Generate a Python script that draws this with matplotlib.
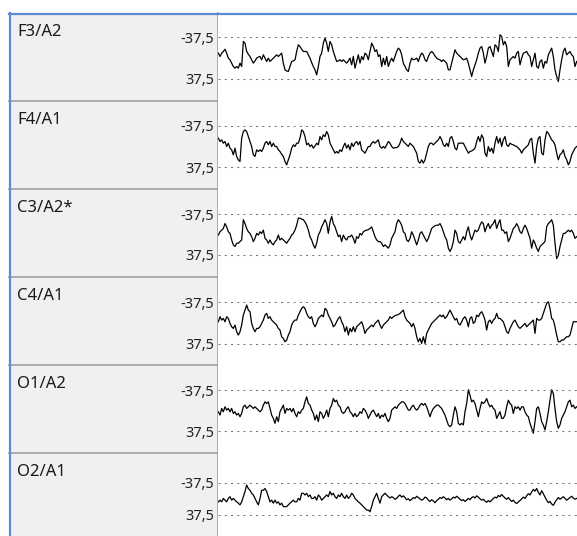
import matplotlib
matplotlib.use("Agg")
import matplotlib.pyplot as plt
from matplotlib.patches import Rectangle
from matplotlib.lines import Line2D
import numpy as np

plt.rcParams['font.family'] = ['Noto Sans', 'DejaVu Sans']

# channel names and amplitude scale (uV, negative up)
channels = ["F3/A2", "F4/A1", "C3/A2*", "C4/A1", "O1/A2", "O2/A1"]
scale_ticks = [-37.5, 37.5]
scale_labels = ["-37,5", "37,5"]

# traces in uV at an even step
f3_a2 = [-9, -3, -9, -12, -16, -9, 0, 3, 9, 15, 18, 15, 18, 9, 15, -30, -27, -12, -7, -3,
         3, 9, 5, 0, -2, -3, 3, -6, 0, 6, 0, 6, 3, 0, -3, -6, -3, -6, -9, 9,
         21, 23, 24, 15, 6, 5, 3, -12, -24, -21, -16, -12, -12, -12, -6, 0, 8, 15, 21, 30,
         15, -3, -9, -27, -36, -27, -12, -30, -24, -12, -3, 6, 5, 3, 6, 3, 6, 9, 5, 0,
         12, -3, 18, 6, -6, 9, -3, 3, -9, -6, 3, -12, -27, -21, -12, -15, -3, -6, 15, 0,
         12, -3, 15,
         6, 0, 6, -3, -12, -18, -15, -6, 9, 15, 21, 24, 9, 0, 3, 2, 0, 6, -3, -9,
         -6, 3, 6, -3, -9, -12, -9, -4, 0, 2, 3, 6, 3, 6, 9, 21, 21, 9, -3, -15,
         -9, -6, -3, 0, 3, 2, 0, 9, 21, 33, 21, 12, 3, -9, -18, -21, -9, 9, -3, -18,
         -21, -12, -3, -24, -21, -12, -42, -39, -24, -30, -21, 15, 3, 0, -3, 0, -9, -12, 12, 0,
         -9, -10, -12, -6, -3, 15, 3, -9, 15, 18, 6, 3, 18, 6, 9, -6, -12, -18, -3, 21,
         33, 42, 21, 3, -12, -18, -6, -9, -12, -6, -3, 15, 6]
f4_a1 = [-15, -9, -12, -6, -9, 0, -6, 3, 6, 15, 3, 18, 24, 27, -15, -27, -30, -27, -18, -9,
         0, 15, 18, 6, 9, 6, 9, 3, -6, -9, -3, -9, 0, -6, 0, 0, 6, 9, 14, 18,
         27, 33, 24, 15, 3, -3, 0, -6, -6, -15, -30, -27, -18, -3, -6, 0, -3, 3, -1, -6,
         -3, -18, -12, -21, -18, -27, -21, -6, 0, 6, 12, 9, 12, 6, 9, 0, -6, 3, -3, 6,
         -6, 0, -6, -9, -3, -9, 6, 9, 12, 6, 0, 0, -6, -9, -6, -9, -12, 0, 3, 0,
         3, -3, -9,
         -6, 0, 3, 2, 2, 0, -6, -15, -9, -6, -3, 0, -6, -3, 0, 6, 12, 27, 30, 24,
         30, 24, 12, 0, -6, -6, -3, -6, -9, -12, -18, -12, -3, 0, -6, 0, -15, -18, -9, 3,
         6, -6, -6, -6, -6, 0, 6, 12, 9, 8, 6, 3, -9, -18, -9, -21, -15, 12, 18, 0,
         9, 3, 12, -6, -18, -6, -15, 0, -12, -18, -3, 0, -6, -4, -3, -1, 0, 3, 6, 12,
         6, 3, 0, -3, -12, -15, 12, 30, 0, -15, -18, 12, 15, -12, -27, -24, -18, -12, -9, -3,
         12, 24, 15, 12, 6, 18, 24, 33, 27, 15, 9, 3, 0]
c3_a2 = [1, -5, -8, -11, -20, -14, -5, -2, 10, 19, 22, 16, 16, 13, 10, -27, -20, -11, -5, -2,
         4, 13, 7, -2, 1, -5, -2, -8, 7, 10, 16, 10, 16, 19, 13, 10, 1, 10, 7, 10,
         13, 16, 11, 7, 1, -2, -8, -17, -30, -30, -28, -27, -23, -17, -8, 4, 10, 19, 25, 16,
         1, -5, -14, -20, -27, -20, -2, -23, -33, -20, -14, -5, 4, 1, 13, 1, 7, 10, 4, 4,
         1, 7, 16, 4, 7, -2, 1, -5, -7, -8, -9, -11, -14, -5, 4, 10, 13, 13, 16, 22,
         19, 22, 25,
         19, 7, 1, -5, -20, -27, -23, -17, -5, -2, 10, 13, 7, -5, 1, 10, 19, 10, -2, -5,
         1, 7, 13, 7, -2, -11, -14, -16, -17, -17, -20, -14, -5, 4, 10, 25, 31, 25, 13, -8,
         -2, 13, 16, 10, 4, 10, -5, -14, 1, 10, 1, -8, -5, -8, -17, -23, -20, -5, -14, -20,
         -11, -17, -20, -27, -11, -20, -27, -8, -8, -2, -5, 13, 7, -2, -11, -14, -20, -14, -5, -2,
         -11, -17, -11, -2, 7, 25, 10, 16, 25, 31, 22, 19, 16, 13, -14, -20, -23, -27, -17, 16,
         44, 38, 22, 10, -2, -2, -5, -8, -5, -8, -2, 7, 4]
c4_a1 = [-2, -11, -5, -8, -2, -11, -8, 1, 7, 10, 4, 16, 22, 16, 4, -14, -23, -32, -23, -20,
         1, 10, 16, 10, 10, 7, 1, -5, -14, -17, -8, -11, -5, -2, 1, 4, 10, 13, 25, 28,
         34, 31, 22, 16, 4, -2, -5, -5, -14, -20, -26, -29, -26, -17, -11, -8, -11, 1, 7, 1,
         -8, -11, -14, -11, -26, -23, -14, -8, -2, 7, 4, -2, -8, -11, -2, 4, 16, 7, 22, 10,
         16, 7, 16, 7, 4, 1, -2, 7, 19, 13, 10, 7, 4, 7, 1, -2, -5, 4, 10, 4,
         1, -2, -5,
         -11, -8, -11, -13, -14, -15, -17, -20, -23, -11, -5, -2, 1, 7, 1, 10, 25, 34, 28, 37,
         25, 37, 19, 13, 7, 1, -2, -5, -8, -11, -14, -11, -14, -8, -11, -17, -23, -17, -11, -5,
         -8, 1, 4, -2, -8, -11, -5, 7, -8, -11, 1, -2, -14, -11, -17, -20, -14, -5, 13, -2,
         -5, 1, -5, -8, -17, -8, -8, -5, -2, 7, 16, 19, 10, 4, -2, -5, 1, 7, 10, 7,
         4, 1, 7, 4, 1, -2, -5, 19, -8, -5, -5, -8, -17, -26, -35, -38, -26, -8, -5, 7,
         22, 34, 34, 31, 31, 28, 25, 25, 22, 10, -2, -2, -2]
o1_a2 = [2, 8, -4, 2, -7, -1, -4, 2, -4, 5, 2, 8, 5, 11, 5, -7, -10, -4, -7, -10,
         -7, -4, -7, -4, -1, 2, -1, -10, -16, -13, -16, -4, 8, 14, 23, 11, 20, 2, -4, -10,
         5, -4, -1, -4, 2, -4, 5, 11, 2, 5, -1, -4, -16, -25, -13, -10, -1, 5, 17, 8,
         20, 2, 5, 14, 8, -1, 11, -4, -10, -22, -16, -19, -10, -7, 2, 5, 2, -4, -7, 2,
         5, 11, 5, 11, 8, 2, 5, -4, -1, 5, 14, 8, 2, -1, 5, 11, 5, 14, 8, 11,
         5, 14, 20,
         14, -1, -4, -7, -4, -10, -13, -16, -16, -13, -7, -1, -1, -7, -10, -4, -1, -4, -10, -13,
         -10, -13, -7, 2, 11, 2, -4, -7, -10, -10, -7, -4, 2, 8, 17, 26, 29, 26, 8, -7,
         2, 23, 26, 23, 26, 2, -13, -38, -28, -16, -19, -13, -1, 11, -4, -16, -13, -16, -22, -13,
         -7, -10, -4, -1, 14, 8, 2, 14, 14, 8, -7, -19, -13, -10, 5, -7, -4, -7, -1, -7,
         -7, 2, 8, 11, 23, 32, 41, 20, -4, -7, 5, 20, 26, 35, 20, 2, -19, -38, -31, -4,
         20, 32, 26, 14, 8, 2, -7, -16, -19, -7, -10, -4, -7]
o2_a1 = [7, 3, 7, -1, 3, 7, -1, -5, 3, -1, 3, 7, 10, 14, 7, -5, -17, -32, -24, -20,
         -13, -9, -1, 7, 14, -1, -20, -20, -24, -17, -5, 7, 3, 10, 3, 10, 7, 14, 10, 18,
         18, 18, 14, 10, 7, 3, 7, 7, -1, 3, -13, -13, -9, -13, -5, -9, -1, -1, -5, 3,
         -9, -5, 3, -1, -5, -9, -5, -17, -9, -13, -5, -1, -9, -5, -13, -5, -1, -9, -1, -5,
         -13, -9, -1, 3, 7, 10, 14, 18, 22, 26, 26, 30, 18, 3, -5, -13, -1, 10, -5, -9,
         -13, -9, -5,
         -2, -5, -3, 1, -1, -6, -9, -4, -7, -3, 2, 0, 4, 1, -3, -1, -6, -3, 0, 3,
         1, -4, -2, 3, 6, 2, 5, 9, 4, 1, -3, -1, -5, -2, 2, -1, 3, 0, -4, -2,
         -6, -3, 1, 4, 2, 6, 3, -1, 2, -3, -5, -2, -7, -4, 0, 3, 1, 5, 8, 4,
         7, 3, -1, -4, -2, -8, -5, -10, -6, -2, 1, -3, 2, 6, 3, 8, 11, 7, 4, 0,
         -4, -1, -7, -12, -9, -16, -22, -18, -24, -15, -9, -19, -12, -4, 3, 9, 6, 12, 15, 8,
         2, -3, 1, -2, -5, -1, 3, 0, -3, -6, -2, 1, -1]
traces = [f3_a2, f4_a1, c3_a2, c4_a1, o1_a2, o2_a1]

W, H = 577, 536
fig = plt.figure(figsize=(W / 100, H / 100), dpi=100)


def fx(px):
    return px / W


def fy(py):
    return 1 - py / H


# row layout in pixels: top, bottom, and where -37,5 / 37,5 fall
row_top = [13, 101, 189, 277, 365, 453]
row_bot = [101, 189, 277, 365, 453, 536]
grid_px = [(37.3, 79), (125.7, 167.3), (214, 255), (302, 343.7), (390, 431.3), (482.7, 515)]
left, split, right = 9, 217.5, 577
x0, dx = 218.33, 5 / 3  # first sample and sample step, px

# label panel
fig.add_artist(Rectangle((fx(left), fy(H)), fx(split) - fx(left), fy(row_top[0]) - fy(H),
                         transform=fig.transFigure, facecolor='#f0f0f0', edgecolor='none', zorder=-2))
for yb in row_bot[:-1]:
    fig.add_artist(Line2D([fx(left), fx(split)], [fy(yb), fy(yb)], transform=fig.transFigure,
                          color='#a0a0a0', lw=1.2, zorder=-1))
fig.add_artist(Line2D([fx(split), fx(split)], [fy(row_top[0]), 0], transform=fig.transFigure,
                      color='#a0a0a0', lw=1.2, zorder=-1))

for i, name in enumerate(channels):
    top, bot = row_top[i], row_bot[i]
    p1, p2 = grid_px[i]
    k = 75.0 / (p2 - p1)
    v_top = -37.5 + (top - p1) * k
    v_bot = -37.5 + (bot - p1) * k

    ax = fig.add_axes([fx(split), fy(bot), fx(right) - fx(split), fy(top) - fy(bot)])
    y = np.array(traces[i])
    t = np.arange(len(y))
    ax.plot(t, y, color='black', lw=0.9)
    for v in scale_ticks:
        ax.axhline(v, color='#7a7a7a', lw=0.75, dashes=(2, 4))
    ax.set_xlim((split - x0) / dx, (right - x0) / dx)
    ax.set_ylim(v_bot, v_top)
    ax.set_xticks([])
    ax.set_yticks(scale_ticks, labels=scale_labels)
    ax.tick_params(axis='y', length=0, pad=2.5, labelsize=10.5, labelcolor='#222222')
    for s in ax.spines.values():
        s.set_visible(False)

    fig.text(fx(17), fy(top + 11), name, ha='left', va='top', fontsize=12, color='#1a1a1a')

# blue frame
fig.add_artist(Line2D([fx(left), 1], [fy(14), fy(14)], transform=fig.transFigure,
                      color='#5b8ad3', lw=1.6, zorder=5))
fig.add_artist(Line2D([fx(10), fx(10)], [fy(13), 0], transform=fig.transFigure,
                      color='#5b8ad3', lw=1.6, zorder=5))

fig.savefig("out.png", dpi=100, facecolor='white')
